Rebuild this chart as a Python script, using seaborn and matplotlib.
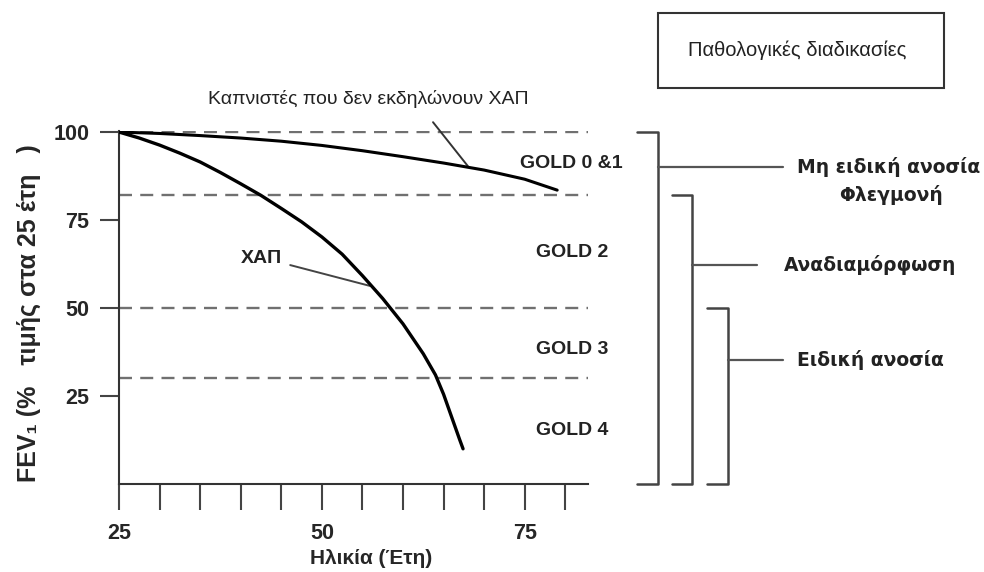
import matplotlib
matplotlib.use('Agg')
import matplotlib.pyplot as plt
from matplotlib.patches import Rectangle
import seaborn as sns
import pandas as pd

# FEV1 decline curves
healthy_age = [25, 30, 35, 40, 45, 50, 55, 60, 65, 70, 75, 79]
healthy_fev = [100, 99.6, 99.0, 98.3, 97.4, 96.2, 94.7, 93.0, 91.2, 89.2, 86.6, 83.5]

copd_age = [25, 27.5, 30, 32.5, 35, 37.5, 40, 42.5, 45, 47.5, 50, 52.5,
            55, 57.5, 60, 62.5, 64, 65, 66, 67, 67.4]
copd_fev = [100, 98.3, 96.3, 94.0, 91.5, 88.5, 85.3, 82.0, 78.3, 74.5, 70.2, 65.3,
            59.2, 52.7, 45.5, 37.0, 31.0, 25.5, 19.0, 12.5, 10.0]

# GOLD stage thresholds and labels
gold_lines = [100, 82, 50, 30]
gold_labels = ['GOLD 0 &1', 'GOLD 2', 'GOLD 3', 'GOLD 4']
gold_label_y = [91.2, 65.9, 38.1, 15.3]

x_ticks = [25, 30, 35, 40, 45, 50, 55, 60, 65, 70, 75, 80]
x_ticklabels = ['25', '', '', '', '', '50', '', '', '', '', '75', '']
y_ticks = [25, 50, 75, 100]

# bracket spans (top, bottom in FEV units) and process labels
brackets = [(100, 0), (82, 0), (50, 0)]
processes = ['Μη ειδική ανοσία', 'Αναδιαμόρφωση', 'Ειδική ανοσία']

sns.set_theme(style='white')
plt.rcParams['font.family'] = ['Liberation Sans', 'DejaVu Sans']

df_h = pd.DataFrame({'age': healthy_age, 'fev': healthy_fev})
df_c = pd.DataFrame({'age': copd_age, 'fev': copd_fev})

fig = plt.figure(figsize=(9.84, 5.72), dpi=100)
ax = fig.add_axes([119 / 984, 88 / 572, 469 / 984, 353 / 572])

for yv in gold_lines:
    ax.axhline(yv, color='#707070', lw=1.7, ls=(0, (5.5, 3.5)), zorder=1)

sns.lineplot(data=df_h, x='age', y='fev', ax=ax, color='black', lw=2.2, zorder=3)
sns.lineplot(data=df_c, x='age', y='fev', ax=ax, color='black', lw=2.4, zorder=3)

ax.set_xlim(25, 82.8)
ax.set_ylim(0, 100.3)
sns.despine(ax=ax)
for s in ['left', 'bottom']:
    ax.spines[s].set_color('#333333')
    ax.spines[s].set_linewidth(1.5)

ax.set_xticks(x_ticks)
ax.set_xticklabels(x_ticklabels, fontsize=15.5, fontweight='bold')
ax.set_yticks(y_ticks)
ax.set_yticklabels([str(v) for v in y_ticks], fontsize=15.5, fontweight='bold')
ax.tick_params(axis='x', direction='out', length=19, width=1.5, color='#444444', pad=9, bottom=True)
ax.tick_params(axis='y', direction='out', length=13.5, width=1.5, color='#444444', pad=8, left=True)

ax.set_xlabel('Ηλικία (Έτη)', fontsize=15, fontweight='bold')
ax.xaxis.set_label_coords(252 / 469, -0.184)
ax.set_ylabel('FEV₁ (%   τιμής στα 25 έτη   )', fontsize=18, fontweight='bold')
ax.yaxis.set_label_coords(-78 / 469, 0.485)

# GOLD stage labels
for lab, yv in zip(gold_labels, gold_label_y):
    ax.text(80.8, yv, lab, ha='center', va='center', fontsize=14,
            fontweight='bold', color='#222222', clip_on=False)

# curve labels with leader lines
ax.text(55.7, 109.4, 'Καπνιστές που δεν εκδηλώνουν ΧΑΠ', ha='center', va='center',
        fontsize=14, color='#222222', clip_on=False)
ax.plot([63.7, 68.0], [102.8, 90.3], color='#333333', lw=1.4, clip_on=False)
ax.text(42.6, 64.2, 'ΧΑΠ', ha='center', va='center', fontsize=14,
        fontweight='bold', color='#222222')
ax.plot([46.1, 55.9], [62.2, 56.3], color='#444444', lw=1.4)

# brackets for pathological processes
br_x = [91.4, 95.6, 100.0]
br_w = 2.5
br_mid = [90.1, 62.2, 35.2]
br_end = [106.8, 103.6, 106.8]
for (top, bot), xv, ym, xe in zip(brackets, br_x, br_mid, br_end):
    ax.plot([xv - br_w, xv, xv, xv - br_w], [top, top, bot, bot],
            color='#444444', lw=1.8, clip_on=False)
    ax.plot([xv, xe], [ym, ym], color='#555555', lw=1.6, clip_on=False)

side = dict(fontsize=13.5, fontweight='bold', color='#222222', clip_on=False,
            family='DejaVu Sans', va='center')
ax.text(108.5, 90.1, processes[0], ha='left', **side)
ax.text(120.2, 82.1, 'Φλεγμονή', ha='center', **side)
ax.text(107.0, 62.2, processes[1], ha='left', **side)
ax.text(108.5, 35.2, processes[2], ha='left', **side)

# title box
fig.patches.append(Rectangle((658 / 984, 1 - 88 / 572), 286 / 984, 75 / 572,
                             transform=fig.transFigure, fill=False,
                             edgecolor='#333333', lw=1.5))
fig.text(797 / 984, 1 - 50 / 572, 'Παθολογικές διαδικασίες', ha='center', va='center',
         fontsize=14.5, color='#222222')

fig.savefig('out.png', dpi=100)
